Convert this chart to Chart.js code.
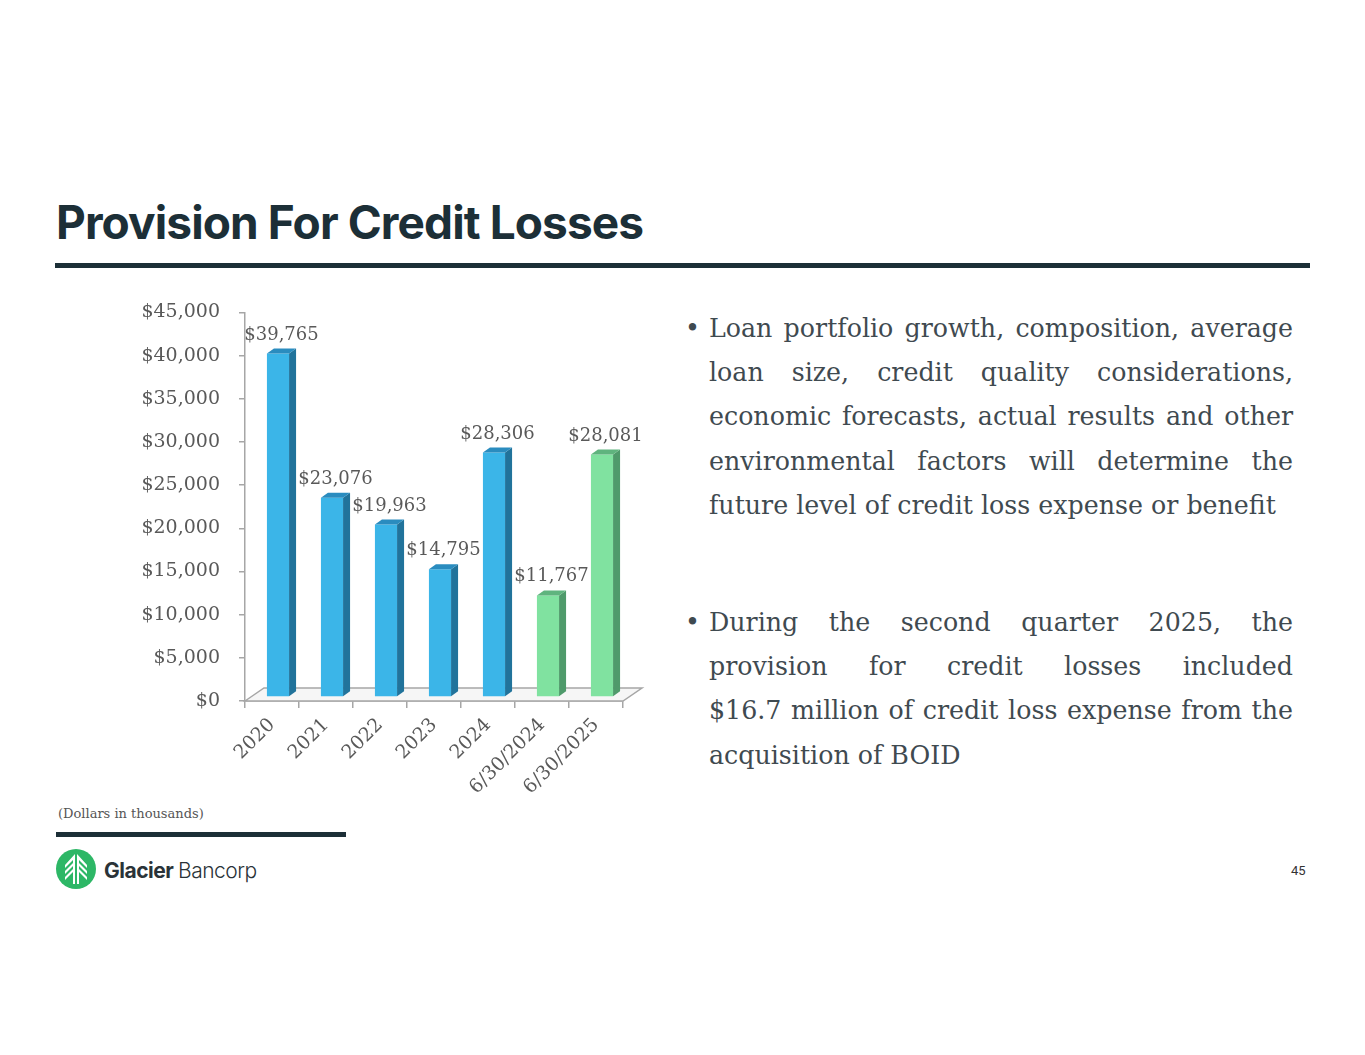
<!DOCTYPE html>
<html>
<head>
<meta charset="utf-8">
<script src="https://cdn.jsdelivr.net/npm/chart.js@4.4.1/dist/chart.umd.min.js"></script>
<style>
  html, body { margin: 0; padding: 0; background: #fff; }
  body { width: 1365px; height: 1055px; position: relative; overflow: hidden; }
  .title {
    position: absolute; left: 56px; top: 194px; margin: 0;
    font-family: Inter, "Open Sans", sans-serif; font-weight: 700;
    font-size: 46px; letter-spacing: -0.9px; color: #1c2f37; white-space: nowrap;
  }
  .rule { position: absolute; background: #1c2f37; }
  .bullets { position: absolute; left: 685px; width: 608px; color: #3f4a50; font-family: "DejaVu Serif", serif; }
  .bullets .dot { position: absolute; left: 0; top: 0; line-height: 44px; }
  .bullets .line { position: absolute; left: 24px; white-space: nowrap; line-height: 44px; }
  .note { position: absolute; left: 58px; top: 806px; font-family: "DejaVu Serif", serif; font-size: 13px; color: #555; }
  .page { position: absolute; left: 1291px; top: 863px; font-family: Roboto, sans-serif; font-size: 13px; color: #333; }
  #chartBox { position: absolute; left: 130px; top: 282px; width: 530px; height: 520px; }
  #chartBox canvas { display: block; }
</style>
</head>
<body>
<h1 class="title">Provision For Credit Losses</h1>
<div class="rule" style="left:55px; top:263px; width:1255px; height:5px;"></div>

<div id="chartBox"><canvas id="myChart" width="530" height="520"></canvas></div>

<div class="bullets" id="b1" style="top:307px;"></div>
<div class="bullets" id="b2" style="top:601px;"></div>

<div class="note">(Dollars in thousands)</div>
<div class="rule" style="left:56px; top:832px; width:290px; height:5px;"></div>

<svg style="position:absolute; left:54px; top:847px;" width="220" height="46" viewBox="0 0 220 46">
  <circle cx="22" cy="22" r="20" fill="#2db766"/>
  <g fill="#fff">
    <polygon points="21,7 21,37 19,37 19,13 11,21 11,18"/>
    <polygon points="23,7 23,37 25,37 25,13 33,21 33,18"/>
    <polygon points="19,19 11,27 11,24 19,16"/>
    <polygon points="25,19 33,27 33,24 25,16"/>
    <polygon points="19,25 11,33 11,30 19,22"/>
    <polygon points="25,25 33,33 33,30 25,22"/>
  </g>
  <text x="50" y="31" font-family="Inter, sans-serif" font-weight="700" font-size="21" fill="#2a3338" letter-spacing="-0.5">Glacier</text>
  <text x="124" y="31" font-family="Inter, sans-serif" font-weight="300" font-size="21" fill="#2a3338" letter-spacing="-0.5">Bancorp</text>
</svg>
<div class="page">45</div>

<script>
var categories = ["2020", "2021", "2022", "2023", "2024", "6/30/2024", "6/30/2025"];
var provision = [39765, 23076, 19963, 14795, 28306, 11767, 28081];
var barColors = ["#3bb5e8", "#3bb5e8", "#3bb5e8", "#3bb5e8", "#3bb5e8", "#80e2a0", "#80e2a0"];
var sideColors = ["#21739b", "#21739b", "#21739b", "#21739b", "#21739b", "#4f9a6b", "#4f9a6b"];
var topColors = ["#2a8cbf", "#2a8cbf", "#2a8cbf", "#2a8cbf", "#2a8cbf", "#5fb47e", "#5fb47e"];
var yTicks = [0, 5000, 10000, 15000, 20000, 25000, 30000, 35000, 40000, 45000];

var bullet1 = [
    "Loan portfolio growth, composition, average",
    "loan size, credit quality considerations,",
    "economic forecasts, actual results and other",
    "environmental factors will determine the",
    "future level of credit loss expense or benefit",
];
var bullet2 = [
    "During the second quarter 2025, the",
    "provision for credit losses included",
    "$16.7 million of credit loss expense from the",
    "acquisition of BOID",
];

var serif = '"DejaVu Serif", serif';
var money = function (v) { return "$" + v.toLocaleString("en-US"); };

// body text: size so the unjustified last line matches, then justify the others
var mctx = document.createElement("canvas").getContext("2d");
function textWidth(s, size) {
    mctx.font = size + "px " + serif;
    return mctx.measureText(s).width;
}
var bodySize = Math.min(27, 27 * 567 / textWidth(bullet1[4], 27));
function fillBullet(id, lines) {
    var box = document.getElementById(id);
    var dot = document.createElement("span");
    dot.className = "dot";
    dot.style.fontSize = bodySize + "px";
    dot.textContent = "\u2022";
    box.appendChild(dot);
    lines.forEach(function (s, i) {
        var el = document.createElement("span");
        el.className = "line";
        el.style.top = (i * 44.2) + "px";
        el.style.fontSize = bodySize + "px";
        el.textContent = s;
        if (i < lines.length - 1) {
            var gaps = s.split(" ").length - 1;
            var extra = (584 - textWidth(s, bodySize)) / gaps;
            el.style.wordSpacing = extra + "px";
        }
        box.appendChild(el);
    });
}
fillBullet("b1", bullet1);
fillBullet("b2", bullet2);

var shiftX = 6, shiftY = -4;   // bars stand back from the front axis
var depthX = 7, depthY = -5;   // bar side/top faces
var floorX = 19, floorY = -13;

var threeD = {
    id: "threeD",
    beforeDatasetsDraw: function (chart) {
        var ctx = chart.ctx, a = chart.chartArea;
        ctx.save();
        ctx.beginPath();
        ctx.moveTo(a.left, a.bottom);
        ctx.lineTo(a.left + floorX, a.bottom + floorY);
        ctx.lineTo(a.right + floorX, a.bottom + floorY);
        ctx.lineTo(a.right, a.bottom);
        ctx.closePath();
        ctx.fillStyle = "#f6f6f6";
        ctx.fill();
        ctx.strokeStyle = "#a6a6a6";
        ctx.lineWidth = 1.5;
        ctx.stroke();
        ctx.restore();
        ctx.save();
        ctx.translate(shiftX, shiftY);
    },
    afterDatasetsDraw: function (chart) {
        var ctx = chart.ctx;
        chart.getDatasetMeta(0).data.forEach(function (bar, i) {
            var r = bar.x + bar.width / 2, l = bar.x - bar.width / 2;
            ctx.beginPath();
            ctx.moveTo(r, bar.y);
            ctx.lineTo(r + depthX, bar.y + depthY);
            ctx.lineTo(r + depthX, bar.base + depthY);
            ctx.lineTo(r, bar.base);
            ctx.closePath();
            ctx.fillStyle = sideColors[i];
            ctx.fill();
            ctx.beginPath();
            ctx.moveTo(l, bar.y);
            ctx.lineTo(l + depthX, bar.y + depthY);
            ctx.lineTo(r + depthX, bar.y + depthY);
            ctx.lineTo(r, bar.y);
            ctx.closePath();
            ctx.fillStyle = topColors[i];
            ctx.fill();
            ctx.fillStyle = "#595959";
            ctx.font = "18px " + serif;
            ctx.textAlign = "center";
            ctx.textBaseline = "alphabetic";
            ctx.fillText(money(provision[i]), bar.x + depthX / 2, bar.y + depthY - 9);
        });
        ctx.restore();
    },
};

var ctx = document.getElementById("myChart").getContext("2d");
var myChart = new Chart(ctx, {
    type: "bar",
    data: {
        labels: categories,
        datasets: [
            {
                label: "Provision for credit losses",
                data: provision,
                backgroundColor: barColors,
                borderWidth: 0,
                barPercentage: 0.41,
                categoryPercentage: 1,
                clip: false,
            },
        ],
    },
    options: {
        responsive: false,
        animation: false,
        layout: { padding: { top: 12, right: 37, left: 0, bottom: 0 } },
        plugins: { legend: { display: false }, tooltip: { enabled: false } },
        scales: {
            x: {
                grid: { drawOnChartArea: false, color: "#a6a6a6", tickLength: 7, lineWidth: 1.5 },
                border: { color: "#a6a6a6", width: 1.5 },
                ticks: {
                    color: "#595959",
                    font: { family: serif, size: 19 },
                    minRotation: 45,
                    maxRotation: 45,
                    padding: 6,
                },
                afterFit: function (s) { s.height = 101; },
            },
            y: {
                min: 0,
                max: 45000,
                afterBuildTicks: function (s) { s.ticks = yTicks.map(function (v) { return { value: v }; }); },
                grid: { drawOnChartArea: false, color: "#a6a6a6", tickLength: 6, lineWidth: 1.5 },
                border: { color: "#a6a6a6", width: 1.5 },
                ticks: {
                    color: "#595959",
                    font: { family: serif, size: 19 },
                    padding: 19,
                    callback: function (v) { return money(v); },
                },
                afterFit: function (s) { s.width = 115; },
            },
        },
    },
    plugins: [threeD],
});
</script>
</body>
</html>
